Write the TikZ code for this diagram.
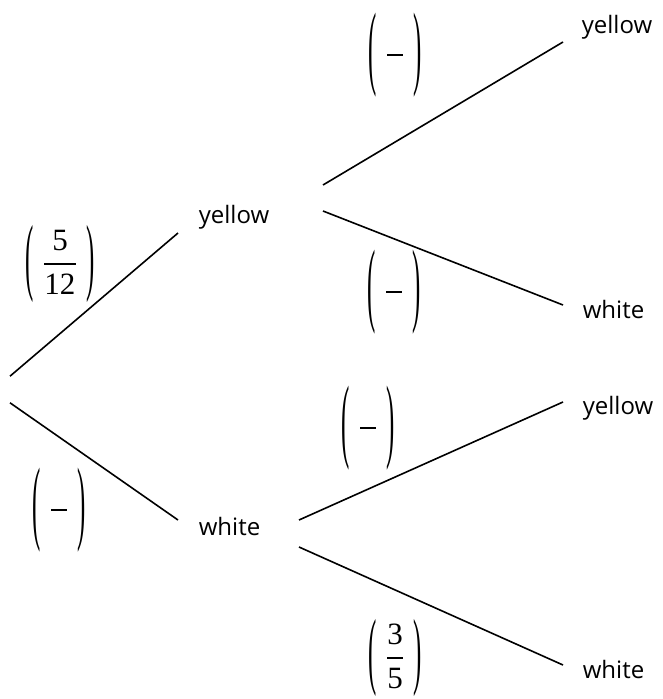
\documentclass[tikz,border=0pt]{standalone}
\usepackage{amsmath}
\usepackage{graphicx}
\usepackage{fontspec}
\setmainfont{Liberation Serif}
\setsansfont{Open Sans}
\usetikzlibrary{positioning, calc}

% tall thin brackets round a fraction
\newcommand{\tallparen}[2]{\vcenter{\hbox{\scalebox{0.8}[#1]{#2}}}}
\newcommand{\probfrac}[3][2.75]{\scalebox{1.55}{$\tallparen{#1}{(}\;\dfrac{\mbox{#2}}{\mbox{#3}}\;\tallparen{#1}{)}$}}
\newcommand{\emptyprob}{\probfrac[3.0]{\phantom{0}}{\phantom{0}}}

\begin{document}
\begin{tikzpicture}[
    x=1pt, y=-1pt,            % one unit per pixel, y runs downwards
    line width=1.6pt,
    outcome/.style={
        font=\sffamily\fontsize{24}{28}\selectfont,
        inner sep=0pt,
        anchor=base west
    },
    prob/.style={
        font=\fontsize{20}{24}\selectfont,
        inner sep=0pt
    },
    fork/.style={
        inner sep=0pt,
        minimum width=0pt,
        minimum height=25pt
    }
]

\useasboundingbox (0,0) rectangle (662,699);

%--- Root of the tree ---
\node[fork] (root) at (10,389.5) {};

%------------------------------------
% FIRST DRAW
%------------------------------------
\node[outcome] (ym) at (198,223) {yellow};
\node[outcome] (wm) at (198,535) {white};

%------------------------------------
% SECOND DRAW
%------------------------------------
\node[outcome] (yy) at (581,33)  {yellow};
\node[outcome] (yw) at (582,318) {white};
\node[outcome] (wy) at (582,414) {yellow};
\node[outcome] (ww) at (582,678) {white};

%------------------
% PROBABILITIES
%------------------
\node[prob] (p_ry) at (60,264)  {\probfrac{5}{12}};
\node[prob] (p_rw) at (59,510)  {\emptyprob};
\node[prob] (p_yy) at (395,55)  {\emptyprob};
\node[prob] (p_yw) at (394,292) {\emptyprob};
\node[prob] (p_wy) at (368,428) {\emptyprob};
\node[prob] (p_ww) at (395,658) {\probfrac{3}{5}};

%------------------
% BRANCHES
%------------------

% root to first draw
\draw (root.north) -- ([shift={(-20,10)}]ym.base west);
\draw (root.south) -- ([shift={(-20,-15)}]wm.base west);

% yellow first
\draw ([shift={(125,-38)}]ym.base west) -- ([shift={(-18,9)}]yy.base west);
\draw ([shift={(125,-12)}]ym.base west) -- ([shift={(-19,-13)}]yw.base west);

% white first
\draw ([shift={(101,-15)}]wm.base west) -- ([shift={(-19,-12)}]wy.base west);
\draw ([shift={(101,12)}]wm.base west) -- ([shift={(-19,-13)}]ww.base west);

\end{tikzpicture}
\end{document}
